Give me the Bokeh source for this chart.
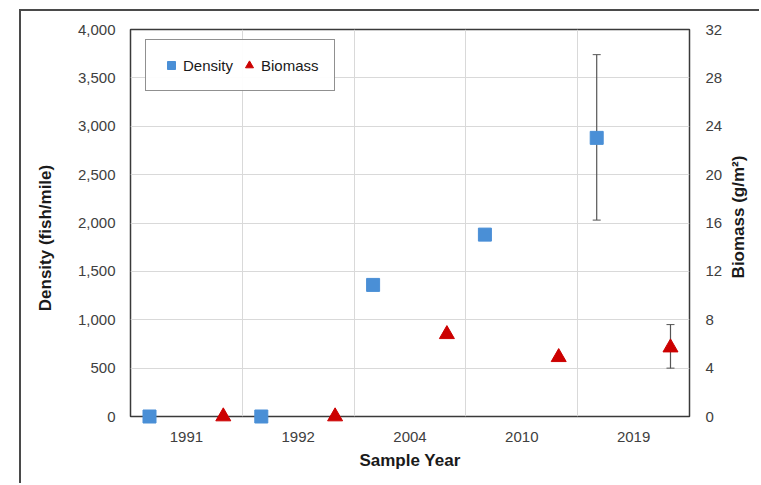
import math
from bokeh.plotting import figure
from bokeh.models import (Range1d, LinearAxis, FixedTicker, NumeralTickFormatter,
                          Legend, LegendItem, Whisker, TeeHead, ColumnDataSource)
from bokeh.core.properties import value
from bokeh.embed import file_html
from bokeh.resources import INLINE

years = ["1991", "1992", "2004", "2010", "2019"]
density = [0, 0, 1360, 1880, 2880]
biomass = [0, 0, 6.8, 4.9, 5.7]
density_err_year = ["2019"]
density_lower = [2030]
density_upper = [3740]
biomass_err_year = ["2019"]
biomass_lower = [4.0]
biomass_upper = [7.6]
density_max = 4000
biomass_max = 32
x_title = "Sample Year"
left_title = "Density (fish/mile)"
right_title = "Biomass (g/m²)"

FONT = "Liberation Sans"
idx = {y: i for i, y in enumerate(years)}
dens_off, bio_off = -0.33, 0.33

p = figure(width=740, height=474, output_backend="svg", toolbar_location=None,
           x_range=Range1d(0, len(years)), y_range=Range1d(0, density_max),
           min_border_left=109, min_border_right=72, min_border_top=18, min_border_bottom=69)
p.styles = {"margin-left": "19px", "margin-top": "9px",
            "border-left": "2px solid #4a4a4a", "border-top": "2px solid #4a4a4a"}
p.extra_y_ranges = {"bio": Range1d(0, biomass_max)}

p.outline_line_color = "#3a3a3a"
p.outline_line_width = 1.5

# x axis
p.xaxis.ticker = FixedTicker(ticks=[i + 0.5 for i in range(len(years))])
p.xaxis.major_label_overrides = {i + 0.5: y for i, y in enumerate(years)}
p.xaxis.axis_label = x_title
p.xgrid.ticker = FixedTicker(ticks=list(range(1, len(years))))

# left axis
p.yaxis.ticker = FixedTicker(ticks=list(range(0, density_max + 1, 500)))
p.yaxis.formatter = NumeralTickFormatter(format="0,0")

# right axis
ra = LinearAxis(y_range_name="bio", ticker=FixedTicker(ticks=list(range(0, biomass_max + 1, 4))))
p.add_layout(ra, "right")

for ax in [p.xaxis[0], p.yaxis[0], ra]:
    ax.axis_line_color = None
    ax.major_tick_line_color = None
    ax.minor_tick_line_color = None
    ax.major_label_text_font = FONT
    ax.major_label_text_font_size = "15px"
    ax.major_label_text_color = "#404040"
    ax.axis_label_text_font = FONT
    ax.axis_label_text_font_size = "17px"
    ax.axis_label_text_font_style = "bold"
    ax.axis_label_text_color = "#1a1a1a"

p.xaxis.major_label_standoff = 9
p.xaxis.axis_label_standoff = 6
p.yaxis.major_label_standoff = 9
ra.major_label_standoff = 10

# rotated axis titles reading bottom-to-top (drawn as unclipped text glyphs)
title_kw = dict(text_font=value(FONT), text_font_size="17px", text_font_style="bold",
                text_color="#1a1a1a", text_align="center", text_baseline="middle",
                angle=math.pi / 2, level="overlay")
p.text(x=[0], y=[density_max / 2], text=[left_title], x_offset=-85, y_offset=15, **title_kw)
p.text(x=[len(years)], y=[biomass_max / 2], text=[right_title], y_range_name="bio",
       x_offset=49, y_offset=-6, **title_kw)

p.xgrid.grid_line_color = "#d9d9d9"
p.ygrid.grid_line_color = "#d9d9d9"
p.ygrid.ticker = FixedTicker(ticks=list(range(0, density_max + 1, 500)))

dsrc = ColumnDataSource(dict(x=[idx[y] + 0.5 + dens_off for y in years], y=density))
bsrc = ColumnDataSource(dict(x=[idx[y] + 0.5 + bio_off for y in years], y=biomass))

# error bars
desrc = ColumnDataSource(dict(x=[idx[y] + 0.5 + dens_off for y in density_err_year],
                              lo=density_lower, hi=density_upper))
besrc = ColumnDataSource(dict(x=[idx[y] + 0.5 + bio_off for y in biomass_err_year],
                              lo=biomass_lower, hi=biomass_upper))
w1 = Whisker(source=desrc, base="x", lower="lo", upper="hi", line_color="#555555", line_width=1.2,
             upper_head=TeeHead(size=8, line_color="#555555"), lower_head=TeeHead(size=8, line_color="#555555"))
w2 = Whisker(source=besrc, base="x", lower="lo", upper="hi", line_color="#555555", line_width=1.2,
             y_range_name="bio",
             upper_head=TeeHead(size=8, line_color="#555555"), lower_head=TeeHead(size=8, line_color="#555555"))
p.add_layout(w1)
p.add_layout(w2)

r1 = p.scatter("x", "y", source=dsrc, marker="square", size=13, fill_color="#4a8fd6",
               line_color="#4a8fd6", level="overlay")
r2 = p.scatter("x", "y", source=bsrc, marker="triangle", size=15, fill_color="#cc0000",
               line_color="#cc0000", y_range_name="bio", level="overlay")

legend = Legend(items=[LegendItem(label="Density", renderers=[r1]),
                       LegendItem(label="Biomass", renderers=[r2])],
                orientation="horizontal", location=(15, 387 - 12 - 50),
                label_text_font=FONT, label_text_font_size="15px", label_text_color="#1a1a1a",
                border_line_color="#222222", border_line_width=1.2,
                padding=15, spacing=6, glyph_width=20, glyph_height=20, label_standoff=2,
                margin=0)
p.add_layout(legend)

open("out.html", "w").write(file_html(p, INLINE))
